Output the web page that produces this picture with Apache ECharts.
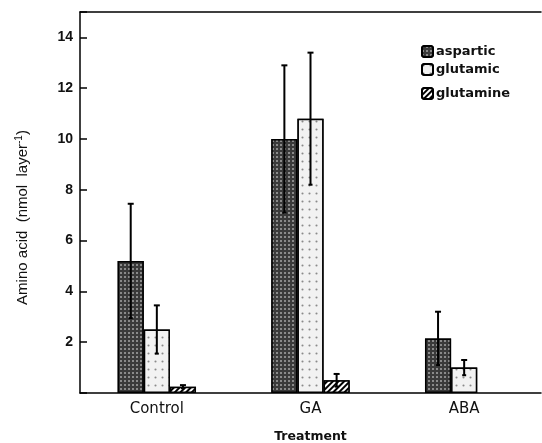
<!DOCTYPE html>
<html>
<head>
<meta charset="utf-8">
<script src="https://cdn.jsdelivr.net/npm/echarts@6/dist/echarts.min.js"></script>
<style>html,body{margin:0;padding:0;background:#fff}#c{width:542px;height:443px}</style>
</head>
<body>
<div id="c"></div>
<script>
const categories = ['Control', 'GA', 'ABA'];
const yTicks = [2, 4, 6, 8, 10, 12, 14];
const aspartic = [5.2, 10.0, 2.15];
const asparticErr = [2.25, 2.9, 1.05];
const glutamic = [2.5, 10.8, 1.0];
const glutamicErr = [0.95, 2.6, 0.3];
const glutamine = [0.25, 0.5, null];
const glutamineErr = [0.06, 0.25, null];

const BAR_FRAC = 0.17;
const chart = echarts.init(document.getElementById('c'), null, {renderer: 'canvas'});

function errSeries(vals, errs, k) {
  const data = [];
  vals.forEach((v, i) => { if (v != null && errs[i] != null) data.push([i, v - errs[i], v + errs[i]]); });
  return {
    type: 'custom', z: 10, silent: true,
    renderItem: function (params, api) {
      const top = api.coord([api.value(0), api.value(2)]);
      const bot = api.coord([api.value(0), api.value(1)]);
      const band = api.size([1, 0])[0];
      const bw = band * BAR_FRAC;
      const x = top[0] + (k - 1) * bw;
      const st = {stroke: '#000', lineWidth: 2};
      return {type: 'group', children: [
        {type: 'line', shape: {x1: x, y1: top[1], x2: x, y2: bot[1]}, style: st},
        {type: 'line', shape: {x1: x - 3, y1: top[1], x2: x + 3, y2: top[1]}, style: st},
        {type: 'line', shape: {x1: x - 2, y1: bot[1], x2: x + 2, y2: bot[1]}, style: st}
      ]};
    },
    data: data
  };
}

const decals = {
  aspartic: {symbol: 'rect', symbolSize: 1, color: '#8a8a8a', backgroundColor: '#3a3a3a', dashArrayX: [2, 2], dashArrayY: [2, 2]},
  glutamic: {symbol: 'circle', symbolSize: 0.7, color: '#8a8a8a', backgroundColor: '#f2f2f2', dashArrayX: [3, 4], dashArrayY: [3, 5]},
  glutamine: {symbol: 'rect', symbolSize: 1, color: '#000', backgroundColor: '#fff', dashArrayX: [1, 0], dashArrayY: [2, 2], rotation: -Math.PI / 4}
};

function barSeries(name, vals, color) {
  return {
    name: name, type: 'bar', barWidth: (BAR_FRAC * 100) + '%', barGap: '0%',
    itemStyle: {color: color, borderColor: '#000', borderWidth: 1.5, decal: decals[name]},
    data: vals
  };
}

const legendBase = {
  left: 416, orient: 'vertical', itemWidth: 11, itemHeight: 11, itemGap: 4,
  textStyle: {fontFamily: 'DejaVu Sans', fontSize: 13, fontWeight: 'bold', color: '#111', padding: [0, 0, 0, -2]},
  selectedMode: false
};

const option = {
  animation: false,
  aria: {enabled: false},
  grid: {left: 80, right: 1, top: 12, bottom: 50, containLabel: false, outerBoundsMode: 'none'},
  legend: [
    Object.assign({}, legendBase, {top: 40, data: ['aspartic']}),
    Object.assign({}, legendBase, {top: 58, data: ['glutamic']}),
    Object.assign({}, legendBase, {top: 82, data: ['glutamine']})
  ],
  xAxis: [{
    type: 'category', data: categories,
    name: 'Treatment', nameLocation: 'middle', nameGap: 37,
    nameTextStyle: {fontFamily: 'DejaVu Sans', fontSize: 12.5, fontWeight: 'bold', color: '#111'},
    axisLine: {lineStyle: {color: '#000', width: 1.5}},
    axisTick: {show: false},
    axisLabel: {fontFamily: 'DejaVu Sans', fontSize: 15, color: '#111', margin: 9}
  }, {
    type: 'category', data: categories, position: 'top',
    axisLine: {lineStyle: {color: '#000', width: 1.5}},
    axisTick: {show: false}, axisLabel: {show: false}
  }],
  yAxis: {
    type: 'value', min: 0, max: 15, interval: 2,
    name: '{a|Amino acid  (nmol  layer}{s|-1}{a|)}', nameLocation: 'middle', nameGap: 48,
    nameTextStyle: {padding: [0, 30, 0, 0], rich: {
      a: {fontFamily: 'Liberation Sans', fontSize: 15, color: '#111'},
      s: {fontFamily: 'Liberation Sans', fontSize: 10, color: '#111', verticalAlign: 'top', padding: [0, 0, 8, 0]}
    }},
    axisLine: {show: true, lineStyle: {color: '#000', width: 1.5}},
    axisTick: {show: true, inside: true, length: 7, lineStyle: {color: '#000', width: 1.5}},
    splitLine: {show: false},
    axisLabel: {
      fontFamily: 'Liberation Sans', fontSize: 14, fontWeight: 'bold', color: '#111', margin: 7,
      formatter: function (v) { return yTicks.indexOf(v) >= 0 ? String(v) : ''; }
    }
  },
  series: [
    barSeries('aspartic', aspartic, '#555'),
    barSeries('glutamic', glutamic, '#eee'),
    barSeries('glutamine', glutamine, '#fff'),
    errSeries(aspartic, asparticErr, 0),
    errSeries(glutamic, glutamicErr, 1),
    errSeries(glutamine, glutamineErr, 2)
  ]
};
chart.setOption(option);
</script>
</body>
</html>
